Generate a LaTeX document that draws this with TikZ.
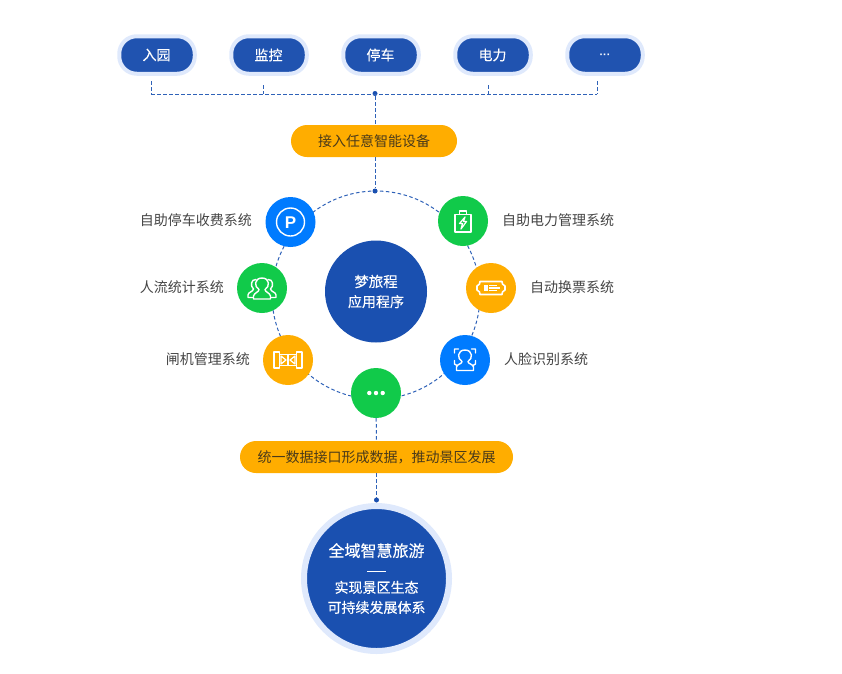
\documentclass[tikz,border=0pt]{standalone}
\usepackage{fontspec}
\setmainfont{Noto Sans CJK SC}
\newfontfamily\whitefont[FakeBold=0.2]{Noto Sans CJK SC}
\newfontfamily\iconfont{Liberation Sans}
\usetikzlibrary{positioning, calc}
\definecolor{pillblue}{HTML}{2053B0}
\definecolor{haloblue}{HTML}{DFE9FC}
\definecolor{deepblue}{HTML}{1A50B0}
\definecolor{linkblue}{HTML}{2F62B8}
\definecolor{sysorange}{HTML}{FFAD00}
\definecolor{sysgreen}{HTML}{11CA4A}
\definecolor{sysblue}{HTML}{007BFF}
\definecolor{labelgray}{HTML}{444444}
\definecolor{bartext}{HTML}{4A3A1A}
\tikzset{
  pill/.style={rectangle,rounded corners=17.5pt,fill=pillblue,draw=haloblue,line width=4pt,
    minimum width=75.5pt,minimum height=37.5pt,inner sep=0pt,outer sep=2pt,text=white,font=\whitefont\fontsize{14}{17}\selectfont},
  bar/.style={rectangle,rounded corners=16pt,fill=sysorange,minimum height=32pt,inner sep=0pt,
    text=bartext,font=\fontsize{14}{17}\selectfont},
  sys/.style={circle,fill=#1,minimum size=50pt,inner sep=0pt},
  syslabel/.style={text=labelgray,inner sep=0pt,font=\fontsize{14}{17}\selectfont},
  dotnode/.style={circle,fill=deepblue,minimum size=5pt,inner sep=0pt},
  link/.style={draw=linkblue,line width=1pt,dash pattern=on 3.5pt off 2.5pt},
  icon/.style={draw=white,line width=1.4pt,line join=round,line cap=round}
}
\begin{document}
\begin{tikzpicture}[x=1pt,y=-1pt]
\useasboundingbox (0,0) rectangle (842,673);

% devices
\draw   (157,55) node[pill](gate1){\kern-1pt 入园}   (269,55) node[pill](gate2){\kern-1pt 监控}
        (381,55) node[pill](gate3){\kern-1pt 停车}   (493,55) node[pill](gate4){\kern-1pt 电力}
        (605,55) node[pill](gate5){\raisebox{-3pt}[0pt][0pt]{\iconfont\bfseries\fontsize{11}{11}\selectfont ···}};
\draw   (151,81) coordinate(t1)   (263,85) coordinate(t2)   (488,85) coordinate(t4)   (597,81) coordinate(t5)
        (151,94) coordinate(b1)   (263,94) coordinate(b2)   (488,94) coordinate(b4)   (597,94) coordinate(b5);

% ring
\node[circle,link,minimum size=208pt,inner sep=0pt](ring) at (376,295) {};
\draw   (375,93.5) node[dotnode](busdot){}
        (374,141) node[bar,minimum width=166pt](devbar){接入任意智能设备}
        (375,191) node[dotnode](topdot){};
\path[link]
     (t1) edge (b1)
     (t2) edge (b2)
     (t4) edge (b4)
     (t5) edge (b5)
     (b1) edge (b5)
     (busdot) edge (busdot |- devbar.north)
     (topdot |- devbar.south) edge (topdot);

\draw   (376,291.5) node[circle,fill=deepblue,minimum size=102pt,inner sep=0pt,text=white,align=center,font=\whitefont\fontsize{14}{20}\selectfont](app)
          {{\fontsize{14.5}{20}\selectfont 梦旅程}\\应用程序};
\draw   (290.5,222) node[sys=sysblue](park){}     (463,221) node[sys=sysgreen](power){}
        (491,288) node[sys=sysorange](ticket){}   (465,360) node[sys=sysblue](face){}
        (376,393) node[sys=sysgreen](more){}      (288,360) node[sys=sysorange](turn){}
        (262,288) node[sys=sysgreen](crowd){};

% labels
\node[syslabel,anchor=east] at (252,220) (l1) {自助停车收费系统};
\node[syslabel,anchor=east] at (224,287) (l2) {人流统计系统};
\node[syslabel,anchor=east] at (250,359) (l3) {闸机管理系统};
\node[syslabel,anchor=west] at (502,220) (l4) {自助电力管理系统};
\node[syslabel,anchor=west] at (530,287) (l5) {自动换票系统};
\node[syslabel,anchor=west] at (504,359) (l6) {人脸识别系统};

% icons
\begin{scope}[shift={(290.5,222)}]
\draw[icon] (0,0) circle (14);
\node[text=white,inner sep=0pt,font=\iconfont\bfseries\fontsize{17}{17}\selectfont] (pmark) at (0,0.5) {P};
\end{scope}
\begin{scope}[shift={(463,221)}]
\draw[icon] (-8,-6.5) rectangle (8,11);
\draw[icon] (-3.5,-6.5) -- (-3.5,-10) -- (3.5,-10) -- (3.5,-6.5);
\draw[icon,line width=1.2pt] (2,-4) -- (-3.5,2.5) -- (-0.5,2.5) -- (-2,8) -- (3.5,0.5) -- (0.5,0.5) -- cycle;
\end{scope}
\begin{scope}[shift={(491,288)}]
\draw[icon,line width=1.6pt] (-11,-6.5) -- (11,-6.5) -- (11.5,-4) -- (14,-2) -- (14,2) -- (11.5,4) -- (11,6.5) -- (-11,6.5) -- (-11.5,4) -- (-14,2) -- (-14,-2) -- (-11.5,-4) -- cycle;
\fill[white] (-7.5,-3.2) rectangle (-3.2,3.2);
\draw[icon,line cap=butt] (-2,-2.7) -- (6,-2.7) (-2,0) -- (9,0) (-2,2.7) -- (6,2.7);
\end{scope}
\begin{scope}[shift={(465,360)}]
\draw[icon] (-10.5,-7) -- (-10.5,-11) -- (-6.5,-11) (10.5,-7) -- (10.5,-11) -- (6.5,-11)
            (-10.5,0.5) -- (-10.5,4) -- (-8,5.5) (10.5,0.5) -- (10.5,4) -- (8,5.5);
\draw[icon] (-3,1.5) .. controls (-8,-1) and (-8,-10) .. (0,-10) .. controls (8,-10) and (8,-1) .. (3,1.5)
            .. controls (3,4) and (8,4) .. (8.5,7) -- (8.5,10.5) -- (-8.5,10.5) -- (-8.5,7) .. controls (-8,4) and (-3,4) .. (-3,1.5);
\end{scope}
\begin{scope}[shift={(376,393)}]
\fill[white] (-6.7,0) circle (2.2) (0,0) circle (2.2) (6.7,0) circle (2.2);
\end{scope}
\begin{scope}[shift={(288,360)}]
\draw[icon] (-14,-8) rectangle (-8.5,8) (8.5,-8) rectangle (14,8);
\draw[icon,line width=1.2pt] (-8.5,-5.5) -- (8.5,-5.5) (-8.5,5.5) -- (8.5,5.5) (0,-5.5) -- (0,5.5);
\draw[icon,line width=1.2pt] (-7,-4) -- (-2,0) -- (-7,4) -- cycle (7,-4) -- (2,0) -- (7,4) -- cycle;
\end{scope}
\begin{scope}[shift={(262,288)}]
\draw[icon] (-3,1.5) .. controls (-8,-1) and (-8,-10) .. (0,-10) .. controls (8,-10) and (8,-1) .. (3,1.5)
            .. controls (3,4) and (8,5) .. (8.5,8) -- (8.5,11) -- (-8.5,11) -- (-8.5,8) .. controls (-8,5) and (-3,4) .. (-3,1.5);
\draw[icon] (-6,-8.5) .. controls (-11,-9) and (-12,-2) .. (-8.5,1) .. controls (-9,4) and (-14,4) .. (-14,7) -- (-14,9.5) -- (-9,9.5)
            (6,-8.5) .. controls (11,-9) and (12,-2) .. (8.5,1) .. controls (9,4) and (14,4) .. (14,7) -- (14,9.5) -- (9,9.5);
\end{scope}

% result
\draw   (376.5,457) node[bar,minimum width=273pt](databar){统一数据接口形成数据，推动景区发展}
        (376.5,500) node[dotnode](enddot){}
        (376.5,578.5) node[circle,fill=deepblue,draw=haloblue,line width=6pt,minimum size=145pt,inner sep=0pt,outer sep=3pt,text=white,align=center,font=\whitefont\fontsize{14}{20}\selectfont](goal)
          {{\fontsize{16}{20}\selectfont 全域智慧旅游}\\
           \rule[5pt]{19pt}{0.8pt}\\[-4pt]
           实现景区生态\\
           可持续发展体系};
\path[link]
     (more) edge (databar)
     (databar) edge (enddot);
\end{tikzpicture}
\end{document}
